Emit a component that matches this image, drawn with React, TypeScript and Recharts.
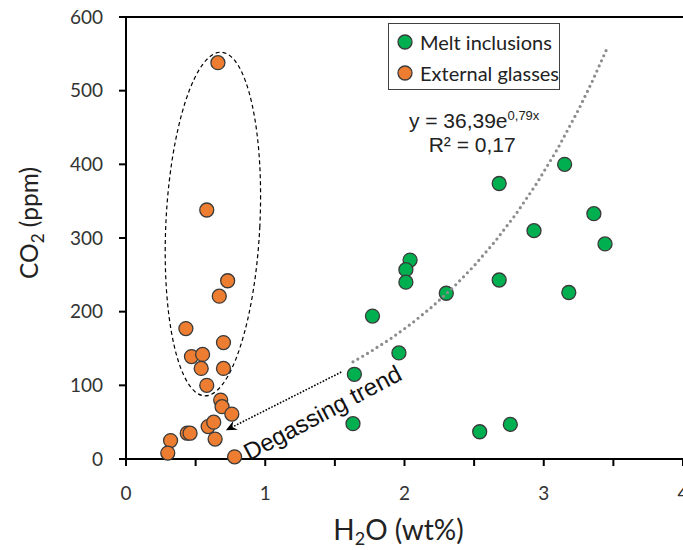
import React from 'react';
import { ScatterChart, Scatter, XAxis, YAxis, ReferenceLine, ReferenceDot, Legend } from 'recharts';

// Melt inclusions (green)
const meltH2O = [3.15, 2.68, 3.36, 2.93, 3.44, 2.04, 2.01, 2.01, 2.68, 2.3, 3.18, 1.77, 1.96, 1.64, 1.63, 2.54, 2.76];
const meltCO2 = [400, 374, 333, 310, 292, 270, 257, 240, 243, 225, 226, 194, 144, 115, 48, 37, 47];

// External glasses (orange)
const glassH2O = [0.66, 0.58, 0.73, 0.67, 0.43, 0.7, 0.47, 0.55, 0.54, 0.7, 0.58, 0.68, 0.69, 0.76, 0.44, 0.46, 0.59, 0.63, 0.64, 0.32, 0.3, 0.78];
const glassCO2 = [538, 338, 242, 221, 177, 158, 139, 142, 123, 123, 100, 80, 71, 61, 35, 35, 44, 50, 27, 25, 8, 3];

// exponential fit shown on the chart: y = 36,39e^0,79x
const fitA = 36.39;
const fitB = 0.79;
const fitH2O = [1.63, 1.75, 1.9, 2.05, 2.2, 2.35, 2.5, 2.65, 2.8, 2.95, 3.1, 3.25, 3.35, 3.45];

const xTicks = [0, 0.5, 1, 1.5, 2, 2.5, 3, 3.5, 4];
const yTicks = [0, 100, 200, 300, 400, 500, 600];

const meltData = meltH2O.map((x, i) => ({ x, y: meltCO2[i] }));
const glassData = glassH2O.map((x, i) => ({ x, y: glassCO2[i] }));
const fitData = fitH2O.map((x) => ({ x, y: fitA * Math.exp(fitB * x) }));

const series = [
  { name: 'Melt inclusions', color: '#00B050', data: meltData },
  { name: 'External glasses', color: '#ED7D31', data: glassData },
];

const calibri = 'Lato, "Open Sans", sans-serif';
const arial = '"Liberation Sans", Arial, sans-serif';

const dotShape = (color: string) => (p: any) => (
  <circle cx={p.cx} cy={p.cy} r={7} fill={color} stroke="#3a3a3a" strokeWidth={1.3} />
);

const ArrowShape = (p: any) => {
  const { x1, y1, x2, y2 } = p;
  const a = Math.atan2(y2 - y1, x2 - x1);
  const c = Math.cos(a);
  const s = Math.sin(a);
  const L = 11;
  const W = 5;
  const bx = x2 - L * c;
  const by = y2 - L * s;
  const nx = x2 - L * 0.65 * c;
  const ny = y2 - L * 0.65 * s;
  const pts = `${x2},${y2} ${bx + W * s},${by - W * c} ${nx},${ny} ${bx - W * s},${by + W * c}`;
  return (
    <g>
      <line x1={x1} y1={y1} x2={nx} y2={ny} stroke="#000" strokeWidth={1.6} strokeDasharray="1.6 1.6" />
      <polygon points={pts} fill="#000" />
    </g>
  );
};

const XTitle = (props: any) => {
  const vb = props.viewBox || { x: 126, y: 459, width: 557 };
  return (
    <text x={vb.x + vb.width / 2 - 6} y={540} textAnchor="middle" fontFamily={calibri} fontSize={28} fill="#222">
      H<tspan dy={5} fontSize={18}>2</tspan>
      <tspan dy={-5}>O (wt%)</tspan>
    </text>
  );
};

const YTitle = () => (
  <text x={0} y={0} transform="translate(38,223) rotate(-90)" textAnchor="middle" fontFamily={calibri} fontSize={24.5} fill="#222">
    CO<tspan dy={6} fontSize={17}>2</tspan>
    <tspan dy={-6}> (ppm)</tspan>
  </text>
);

const LegendBox = () => (
  <div
    style={{
      border: '1.5px solid #404040',
      background: '#fff',
      width: 172,
      height: 67,
      boxSizing: 'border-box',
      fontFamily: calibri,
      fontSize: 20,
      color: '#222',
      paddingTop: 2,
    }}
  >
    {series.map((s) => (
      <div key={s.name} style={{ display: 'flex', alignItems: 'center', height: 31 }}>
        <svg width={31} height={18} style={{ flex: 'none' }}>
          <circle cx={16} cy={9} r={7} fill={s.color} stroke="#3a3a3a" strokeWidth={1.3} />
        </svg>
        <span style={{ whiteSpace: 'nowrap' }}>{s.name}</span>
      </div>
    ))}
  </div>
);

export default function App() {
  return (
    <div style={{ position: 'absolute', left: 0, top: 0, width: 683, height: 550, overflow: 'hidden', background: '#fff' }}>
      <ScatterChart width={700} height={550} margin={{ top: 17, right: 17, bottom: 0, left: 0 }}>
        <XAxis
          type="number"
          dataKey="x"
          domain={[0, 4]}
          ticks={xTicks}
          interval={0}
          tickFormatter={(v: number) => (Number.isInteger(v) ? String(v) : '')}
          height={91}
          tickSize={7}
          tickMargin={21}
          axisLine={{ stroke: '#000', strokeWidth: 2 }}
          tickLine={{ stroke: '#000', strokeWidth: 2 }}
          tick={{ fill: '#333', fontSize: 19, fontFamily: calibri }}
          label={(p: any) => <XTitle {...p} />}
        />
        <YAxis
          type="number"
          dataKey="y"
          domain={[0, 600]}
          ticks={yTicks}
          interval={0}
          width={126}
          tickSize={7}
          tickMargin={16}
          axisLine={{ stroke: '#000', strokeWidth: 2 }}
          tickLine={{ stroke: '#000', strokeWidth: 2 }}
          tick={{ fill: '#333', fontSize: 19, fontFamily: calibri }}
          label={() => <YTitle />}
        />
        <ReferenceLine y={600} stroke="#000" strokeWidth={2} />
        <Legend
          layout="vertical"
          align="center"
          verticalAlign="middle"
          wrapperStyle={{ left: 388, top: 23, width: 172, height: 67 }}
          content={() => <LegendBox />}
        />
        <ReferenceDot
          x={0.624}
          y={319}
          r={1}
          shape={(p: any) => (
            <ellipse
              cx={p.cx}
              cy={p.cy}
              rx={47}
              ry={172}
              transform={`rotate(2.8 ${p.cx} ${p.cy})`}
              fill="none"
              stroke="#000"
              strokeWidth={1.2}
              strokeDasharray="4 3"
            />
          )}
        />
        {series.map((s) => (
          <Scatter
            key={s.name}
            name={s.name}
            data={s.data}
            fill={s.color}
            shape={dotShape(s.color)}
            isAnimationActive={false}
          />
        ))}
        <Scatter
          name="fit"
          data={fitData}
          legendType="none"
          line={{ stroke: '#8c8c8c', strokeWidth: 3.2, strokeDasharray: '0 5.6', strokeLinecap: 'round' }}
          shape={() => <g />}
          isAnimationActive={false}
        />
        <ReferenceLine
          segment={[{ x: 1.546, y: 118 }, { x: 0.717, y: 39 }]}
          stroke="#000"
          shape={ArrowShape}
        />
        <ReferenceDot
          x={1.41}
          y={63}
          r={1}
          shape={(p: any) => (
            <text
              x={p.cx}
              y={p.cy}
              transform={`rotate(-28 ${p.cx} ${p.cy})`}
              textAnchor="middle"
              dominantBaseline="central"
              fontFamily={arial}
              fontSize={24}
              fill="#111"
            >
              Degassing trend
            </text>
          )}
        />
        <ReferenceDot
          x={2.5}
          y={450}
          r={1}
          shape={(p: any) => (
            <g fontFamily={arial} fill="#222">
              <text x={p.cx} y={128} textAnchor="middle" fontSize={21}>
                y = 36,39e<tspan dy={-8} fontSize={13}>0,79x</tspan>
              </text>
              <text x={p.cx - 2} y={152} textAnchor="middle" fontSize={21}>
                R² = 0,17
              </text>
            </g>
          )}
        />
      </ScatterChart>
    </div>
  );
}
